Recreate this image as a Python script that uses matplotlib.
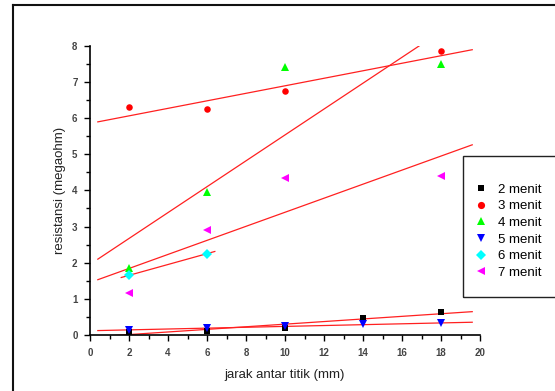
import numpy as np
import matplotlib.pyplot as plt
from matplotlib.lines import Line2D
from matplotlib.patches import Rectangle
from matplotlib.ticker import MultipleLocator

plt.rcParams['font.family'] = ['Liberation Sans', 'DejaVu Sans']

# data
x_2 = [2, 6, 10, 14, 18]
y_2 = [0.09, 0.12, 0.19, 0.46, 0.64]
x_3 = [2, 6, 10, 18]
y_3 = [6.3, 6.25, 6.75, 7.85]
x_4 = [2, 6, 10, 18]
y_4 = [1.85, 3.95, 7.4, 7.5]
x_5 = [2, 6, 10, 14, 18]
y_5 = [0.14, 0.18, 0.25, 0.30, 0.32]
x_6 = [2, 6]
y_6 = [1.65, 2.25]
x_7 = [2, 6, 10, 18]
y_7 = [1.15, 2.9, 4.35, 4.4]

labels = ['2 menit', '3 menit', '4 menit', '5 menit', '6 menit', '7 menit']
xs = [x_2, x_3, x_4, x_5, x_6, x_7]
ys = [y_2, y_3, y_4, y_5, y_6, y_7]
markers = ['s', 'o', '^', 'v', 'D', '<']
colors = ['#000000', '#ff0000', '#00ff00', '#0000ff', '#00ffff', '#ff00ff']
sizes = [4.4, 4.7, 5.8, 5.8, 4.7, 5.8]

fig = plt.figure(figsize=(5.55, 3.91), dpi=100)
ax = fig.add_axes([0.1622, 0.1432, 0.7027, 0.7399])

handles = []
for x, y, m, c, s, lab in zip(xs, ys, markers, colors, sizes, labels):
    # linear fit, extended 10% of the data range each side (Origin style)
    k, b = np.polyfit(x, y, 1)
    ext = 0.1 * (max(x) - min(x))
    xf = np.array([min(x) - ext, max(x) + ext])
    ax.plot(xf, k * xf + b, color='#ff2020', lw=0.9, zorder=2)
    h, = ax.plot(x, y, linestyle='none', marker=m, color=c, ms=s,
                 markeredgewidth=0, label=lab, zorder=3)
    handles.append(h)

ax.set_xlim(0, 20)
ax.set_ylim(0, 8)
ax.xaxis.set_major_locator(MultipleLocator(2))
ax.xaxis.set_minor_locator(MultipleLocator(1))
ax.yaxis.set_major_locator(MultipleLocator(1))
ax.yaxis.set_minor_locator(MultipleLocator(0.5))
ax.spines['top'].set_visible(False)
ax.spines['right'].set_visible(False)
ax.spines['left'].set_linewidth(1.2)
ax.spines['bottom'].set_linewidth(1.2)
ax.tick_params(which='major', direction='out', length=4, width=1,
               labelsize=7, labelcolor='#444444', pad=5)
ax.tick_params(which='minor', direction='out', length=3, width=1)
for t in ax.get_xticklabels() + ax.get_yticklabels():
    t.set_fontweight('bold')

ax.set_xlabel('jarak antar titik (mm)', fontsize=9.5, color='#222222', labelpad=8)
ax.set_ylabel('resistansi (megaohm)', fontsize=9.5, color='#222222', labelpad=4)

# legend box
fig.add_artist(Rectangle((463 / 555, 94 / 391), 0.2, 141 / 391,
                         transform=fig.transFigure, fill=False,
                         edgecolor='#222222', lw=1.0))
fig.legend(handles=handles, loc='upper left',
           bbox_to_anchor=(468 / 555, 1 - 177 / 391), frameon=False,
           fontsize=9.5, handlelength=1.0, handletextpad=0.8,
           labelspacing=0.33, borderpad=0, markerscale=1.1)

# page frame (top and left)
fig.add_artist(Line2D([12.5 / 555, 1], [1 - 4.5 / 391, 1 - 4.5 / 391],
                      transform=fig.transFigure, color='#111111', lw=1.5))
fig.add_artist(Line2D([12.5 / 555, 12.5 / 555], [0, 1 - 4.5 / 391],
                      transform=fig.transFigure, color='#111111', lw=1.5))

fig.savefig('out.png', dpi=100)
